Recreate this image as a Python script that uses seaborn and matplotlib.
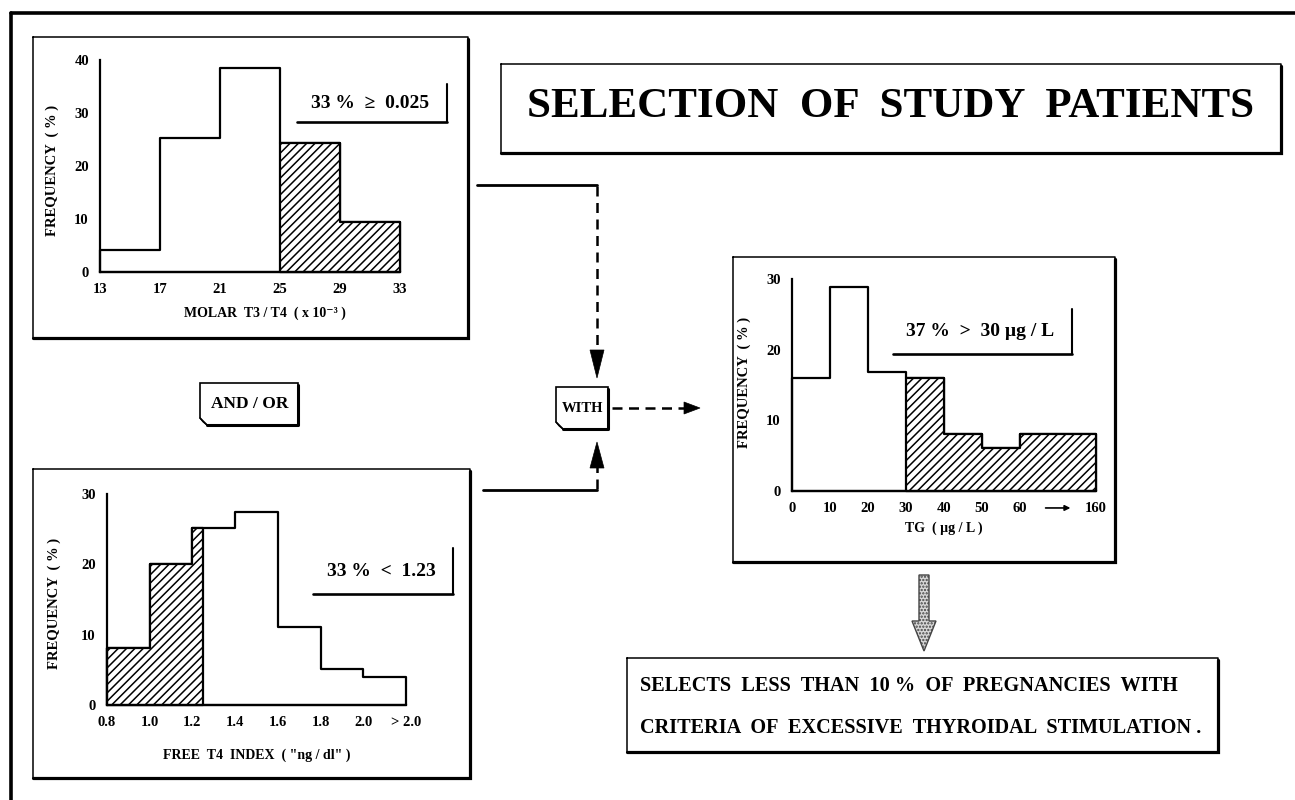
import numpy as np
import pandas as pd
import matplotlib
matplotlib.use("Agg")
import matplotlib.pyplot as plt
from matplotlib.patches import Polygon
import seaborn as sns

sns.set_style("white")
plt.rcParams['font.family'] = ['Liberation Serif', 'DejaVu Serif']
plt.rcParams['font.weight'] = 'bold'
plt.rcParams['axes.labelweight'] = 'bold'
plt.rcParams['hatch.linewidth'] = 1.1
for key in ['text.color', 'axes.labelcolor', 'xtick.color', 'ytick.color', 'axes.edgecolor']:
    plt.rcParams[key] = 'black'

# --- data ---
t3t4_edges = [13, 17, 21, 25, 29, 33]
t3t4_freq = [4.2, 25.3, 38.5, 24.4, 9.5]
t3t4_hatch_from = 3          # bins >= 0.025 are hatched
t3t4_yticks = [0, 10, 20, 30, 40]

ft4_edges = [0.8, 1.0, 1.2, 1.25, 1.4, 1.6, 1.8, 2.0, 2.2]
ft4_freq = [8.1, 20.0, 25.1, 25.1, 27.4, 11.1, 5.1, 4.0]
ft4_hatch_to = 3             # bins < 1.23 are hatched
ft4_ticks = [0.8, 1.0, 1.2, 1.4, 1.6, 1.8, 2.0, 2.2]
ft4_ticklabels = ['0.8', '1.0', '1.2', '1.4', '1.6', '1.8', '2.0', '> 2.0']

tg_edges = [0, 10, 20, 30, 40, 50, 60, 80]
tg_freq = [16.0, 28.9, 16.9, 16.0, 8.0, 6.1, 8.0]
tg_hatch_from = 3            # bins > 30 ug/L are hatched
tg_ticks = [0, 10, 20, 30, 40, 50, 60, 80]
tg_ticklabels = ['0', '10', '20', '30', '40', '50', '60', '160']

W, H = 1295, 800
fig = plt.figure(figsize=(W / 100, H / 100), dpi=100)
bg = fig.add_axes([0, 0, 1, 1])
bg.set_xlim(0, W)
bg.set_ylim(H, 0)
bg.axis('off')


def px_rect(l, t, r, b):
    return [l / W, 1 - b / H, (r - l) / W, (b - t) / H]


def step_hist(ax, edges, freq, hatch=None):
    edges = [float(e) for e in edges]
    df = pd.DataFrame({'mid': [(a + b) / 2 for a, b in zip(edges[:-1], edges[1:])],
                       'freq': list(freq)})
    kws = dict(facecolor="white", edgecolor="black", linewidth=1.6, clip_on=False)
    if hatch:
        kws['hatch'] = hatch
    sns.histplot(data=df, x='mid', weights='freq', bins=edges, element="step",
                 fill=True, ax=ax, **kws)


def style_axis(ax, xlim, ylim, yticks, xticks, xticklabels, xlabel, xl_pos, yl_pos):
    ax.set_xlim(xlim)
    ax.set_ylim(ylim)
    ax.set_facecolor('none')
    sns.despine(ax=ax)
    for s in ['left', 'bottom']:
        ax.spines[s].set_linewidth(1.6)
    ax.set_yticks(yticks)
    ax.set_xticks(xticks)
    ax.set_xticklabels(xticklabels)
    ax.tick_params(length=4, width=1.3, labelsize=10.5, pad=4, direction='out')
    ax.set_xlabel(xlabel, fontsize=10, fontweight='bold')
    ax.set_ylabel('FREQUENCY  ( % )', fontsize=10.5, fontweight='bold')
    ax.xaxis.set_label_coords(*xl_pos)
    ax.yaxis.set_label_coords(*yl_pos)


def frame(x0, y0, x1, y1, lw=1.1, shadow=2.3):
    bg.plot([x0, x1, x1, x0, x0], [y0, y0, y1, y1, y0], color='black', lw=lw)
    bg.plot([x1, x1, x0], [y0 + 2, y1, y1], color='black', lw=shadow,
            solid_joinstyle='miter')


def note(x0, y0, x1, y1, text, size, c=7):
    bg.add_patch(Polygon([(x0, y0), (x1, y0), (x1, y1), (x0 + c, y1), (x0, y1 - c)],
                         closed=True, fill=False, lw=1.2, edgecolor='black'))
    bg.plot([x1, x1, x0 + c], [y0 + 2, y1, y1], color='black', lw=2.2)
    bg.plot([x0, x0 + c * 0.45, x0 + c], [y1 - c, y1 - c * 0.45, y1], color='black', lw=1)
    bg.text((x0 + x1) / 2 + 1, (y0 + y1) / 2, text, ha='center', va='center', fontsize=size)


def head(tx, ty, dx, dy, length, half):
    # triangle arrow head, tip at (tx, ty), pointing along (dx, dy)
    bx, by = tx - dx * length, ty - dy * length
    px, py = -dy * half, dx * half
    bg.add_patch(Polygon([(tx, ty), (bx + px, by + py), (bx - px, by - py)],
                         closed=True, facecolor='black', edgecolor='black', lw=0.5))


def bracket(x0, x1, ytop, ybot, text, tx, ty):
    bg.plot([x0, x1], [ybot, ybot], color='black', lw=1.9)
    bg.plot([x1, x1], [ytop, ybot], color='black', lw=1.5)
    bg.text(tx, ty, text, ha='center', va='center', fontsize=14)


# outer frame
bg.plot([11, 1295], [13, 13], color='black', lw=2.6)
bg.plot([11, 11], [13, 800], color='black', lw=2.6)

# panel 1: molar T3/T4
frame(33, 37, 468, 338)
ax1 = fig.add_axes(px_rect(100, 60, 400, 272))
step_hist(ax1, t3t4_edges, t3t4_freq)
step_hist(ax1, t3t4_edges[t3t4_hatch_from:], t3t4_freq[t3t4_hatch_from:], hatch='////')
style_axis(ax1, (13, 33), (0, 40), t3t4_yticks, t3t4_edges, [str(v) for v in t3t4_edges],
           'MOLAR  T3 / T4  ( x 10\u207b\u00b3 )', (0.55, -0.165), (-0.137, 0.48))
bracket(297, 447, 84, 122, '33 %  \u2265  0.025', 370, 104)

# panel 2: free T4 index
frame(33, 469, 470, 778)
ax2 = fig.add_axes(px_rect(107, 494, 406, 705))
step_hist(ax2, ft4_edges, ft4_freq)
step_hist(ax2, ft4_edges[:ft4_hatch_to + 1], ft4_freq[:ft4_hatch_to], hatch='////')
style_axis(ax2, (0.8, 2.2), (0, 30), [0, 10, 20, 30], ft4_ticks, ft4_ticklabels,
           'FREE  T4  INDEX  ( "ng / dl" )', (0.50, -0.205), (-0.154, 0.48))
bracket(313, 453, 548, 594, '33 %  <  1.23', 381, 571)

# panel 3: TG
frame(733, 257, 1115, 562)
ax3 = fig.add_axes(px_rect(792, 279, 1096, 491))
step_hist(ax3, tg_edges, tg_freq)
step_hist(ax3, tg_edges[tg_hatch_from:], tg_freq[tg_hatch_from:], hatch='////')
style_axis(ax3, (0, 80), (0, 30), [0, 10, 20, 30], tg_ticks, tg_ticklabels,
           'TG  ( \u00b5g / L )', (0.50, -0.145), (-0.135, 0.51))
ax3.annotate('', xy=(74, -0.08), xytext=(66, -0.08),
             xycoords=('data', 'axes fraction'),
             arrowprops=dict(arrowstyle='-|>', lw=1.2, color='black', mutation_scale=8))
bracket(893, 1072, 309, 354, '37 %  >  30 \u00b5g / L', 980, 331)

# title box
frame(501, 64, 1281, 153)
bg.text(891, 107, 'SELECTION  OF  STUDY  PATIENTS', ha='center', va='center', fontsize=31)

# connectors
dash = (0, (4, 2.6))
bg.plot([477, 597], [185, 185], color='black', lw=2)
bg.plot([597, 597], [186, 352], color='black', lw=1.8, ls=dash)
head(597, 378, 0, 1, 28, 7)
bg.plot([483, 597], [490, 490], color='black', lw=2)
bg.plot([597, 597], [489, 466], color='black', lw=1.8, ls=dash)
head(597, 442, 0, -1, 26, 7)
bg.plot([612, 686], [408, 408], color='black', lw=1.8, ls=dash)
head(700, 408, 1, 0, 16, 6)

note(200, 383, 298, 425, 'AND / OR', 12.5)
note(556, 387, 608, 429, 'WITH', 10.5)

# gray arrow
bg.add_patch(Polygon([(919, 575), (929, 575), (929, 621), (936, 621), (924, 651),
                      (912, 621), (919, 621)], closed=True, facecolor='#d8d8d8',
                     edgecolor='#444444', lw=1, hatch='.....'))

# conclusion box
frame(627, 658, 1218, 752)
bg.text(640, 686, 'SELECTS  LESS  THAN  10 %  OF  PREGNANCIES  WITH',
        ha='left', va='center', fontsize=14.6)
bg.text(640, 728, 'CRITERIA  OF  EXCESSIVE  THYROIDAL  STIMULATION .',
        ha='left', va='center', fontsize=14.6)

fig.savefig('out.png', dpi=100)
